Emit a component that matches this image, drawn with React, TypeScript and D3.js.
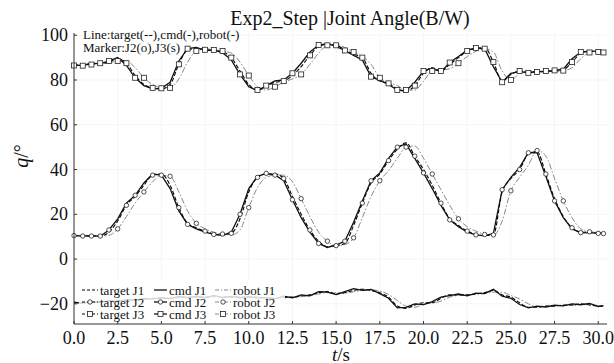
import React from 'react';
import * as d3 from 'd3';

const TIME = [0,0.5,1,1.5,2,2.5,3,3.5,4,4.5,5,5.5,6,6.5,7,7.5,8,8.5,9,9.5,10,10.5,11,11.5,12,12.5,13,13.5,14,14.5,15,15.5,16,16.5,17,17.5,18,18.5,19,19.5,20,20.5,21,21.5,22,22.5,23,23.5,24,24.5,25,25.5,26,26.5,27,27.5,28,28.5,29,29.5,30,30.3];

const J3_TARGET = [86.5,86.8,87.2,87.5,88,89.5,87.5,82,78,76.5,
76,78,87,93.5,94,93.5,93,92.5,90,84,
78,75.5,77,79,79.5,82,86,91,95,96,
95.5,93.5,91.5,90,83,79.5,78.5,76,75,77.5,
83,85.5,84,87,90,93,94,94.5,88,79.5,
82.5,84,83.5,83.5,84,84,84.5,88,92,93,
92.5,92.5];
const J3_CMD = [86.8,86.4,87.5,87.2,88.5,90,86.5,81,77.5,76,
76.3,79,88.5,94,94.6,93.2,93.4,92.2,89,82.5,
77,75.2,77.5,79.6,80,83,87.5,92.5,95.6,96.2,
95,93.2,91,89,81.5,79.8,78,75.5,75.2,79,
84,85.3,83.6,87.8,90.5,93.4,94.3,94,86,79,
83,83.7,83.2,83.9,83.7,84.3,84.8,89.5,92.5,92.7,
93,92.3];
const J3_ROBOT = [86.5,86.6,86.9,87.2,87.6,88.5,88.5,85.5,81,78,
76.5,76.5,80.5,88,93,94,93.5,93,92,88,
82,77,75.5,77,79,80.5,82.5,87,92,95.5,
96,94.5,92.5,90.5,87,81,79,77.5,75.5,75.5,
79.5,84,84.5,85,87.5,90.5,92.8,94,92.5,84,
80,83,84,83.6,83.6,84,84.2,85.5,89.5,92.3,
93,92.6];

const J2_TARGET = [10.5,10.5,10.3,10.3,12,17,24,28,33,37.5,
38,33,23,16,14,12.5,11.2,10.8,11.5,18,
30,36.5,38,38,36,28,20,13,8,5.5,
6,7,15,25,34,38,44,49,52,46,
40,33,25,18,15,12.5,11,10.5,10.8,30,
36,40,47,48,38,27,19,14,12,12,
11.5,11.5];
const J2_CMD = [10.6,10.3,10.5,10.2,13,18,25,28.5,34,38,
37.5,31.5,21.5,15.5,13.5,12,11,10.6,12,20,
31.5,37,38.3,37.6,35,26.5,18.5,12,7,5.2,
6.3,8,16.5,26,35,38.5,45,50,51.5,45,
38.5,31.5,24,17.5,14.5,12,10.8,10.4,11.5,31,
36.5,41,47.5,47.5,37,26,18.5,13.5,11.8,11.7,
11.6,11.4];
const J2_ROBOT = [10.4,10.4,10.3,10.2,10.6,13.5,19,25,30,34.5,
37.5,37,30,21.5,16,13.5,12,11.2,10.8,13,
23,32,36.5,37.5,37.5,34.5,27,19,12,8,
6,6.5,9.5,18.5,28,35,39.5,45,50,50.5,
45,38,31,24,18,14.5,12.5,11,10.5,17,
30.5,36.5,42,48.5,46,36,26,18.5,13.5,12.2,
12,11.8];

const J1_TARGET = [-19.5,-19.5,-19.3,-19,-19,-18.5,-18.5,-18,-18,-17.5,
-17.5,-17.5,-17,-17,-17,-17,-16.5,-17,-17,-17,
-17,-17,-17.5,-17.5,-17,-17,-16.5,-16,-15,-14.5,
-15.5,-15,-14,-13.5,-14,-15,-17,-21,-22,-20.5,
-19.5,-19.5,-17.5,-16,-16,-16,-15.5,-15,-14,-16,
-17,-19.5,-21.5,-21.5,-21,-21,-20.5,-20.5,-20,-20.5,
-21,-21];
const J1_CMD = [-19.2,-19.8,-18.9,-19.4,-18.6,-18.9,-18.1,-18.4,-17.6,-17.9,
-17.2,-17.8,-16.7,-17.3,-16.6,-17.4,-16.2,-17.2,-16.7,-17.3,
-16.8,-17.3,-17.2,-17.8,-16.6,-17.3,-16,-16.4,-14.6,-14.8,
-15.9,-14.5,-13.2,-14,-13.6,-15.4,-17.5,-21.8,-21.6,-20,
-20.3,-19,-17,-16.3,-15.6,-16.4,-15.2,-15.4,-13.5,-16.6,
-17.5,-20.3,-21.8,-21,-21.4,-20.6,-20.9,-20,-20.4,-19.8,
-21.2,-20.8];
const J1_ROBOT = [-19.5,-19.5,-19.4,-19.2,-19,-18.8,-18.6,-18.3,-18.1,-17.8,
-17.6,-17.5,-17.3,-17.1,-17,-17,-16.9,-16.8,-16.9,-17,
-17,-17,-17.2,-17.4,-17.3,-17.1,-16.8,-16.3,-15.6,-15,
-15,-15.2,-14.6,-14,-13.8,-14.3,-15.8,-18.5,-21,-21.5,
-20.2,-19.6,-18.8,-17,-16.2,-16,-15.8,-15.3,-14.8,-14.8,
-16.3,-17.8,-20,-21.3,-21.3,-21,-20.8,-20.6,-20.3,-20.3,
-20.8,-21];

const X_TICKS = [0, 2.5, 5, 7.5, 10, 12.5, 15, 17.5, 20, 22.5, 25, 27.5, 30];
const Y_TICKS = [-20, 0, 20, 40, 60, 80, 100];
const SOURCES = ['target', 'cmd', 'robot'];
const JOINTS = ['J1', 'J2', 'J3'];

const FONT = "'Liberation Serif', 'DejaVu Serif', serif";

const STYLE: Record<string, { stroke: string; dash: string | undefined; width: number }> = {
  target: { stroke: '#000', dash: '4,2', width: 1.1 },
  cmd: { stroke: '#111', dash: undefined, width: 1.3 },
  robot: { stroke: '#888', dash: '6,2,1.5,2', width: 1 },
};

function Marker({ kind, cx, cy }: { kind: string; cx: number; cy: number }) {
  if (kind === 'J2') return <circle cx={cx} cy={cy} r={2.2} fill="#fff" stroke="#222" strokeWidth={0.8} />;
  if (kind === 'J3') return <rect x={cx - 2.5} y={cy - 2.5} width={5} height={5} fill="#fff" stroke="#222" strokeWidth={0.8} />;
  return null;
}

export default function App() {
  const W = 614, H = 363;
  const x = d3.scaleLinear().domain([0, 30.5]).range([74, 607]);
  const y = d3.scaleLinear().domain([-29, 101]).range([324, 33]);

  const data: Record<string, Record<string, number[]>> = {
    J1: { target: J1_TARGET, cmd: J1_CMD, robot: J1_ROBOT },
    J2: { target: J2_TARGET, cmd: J2_CMD, robot: J2_ROBOT },
    J3: { target: J3_TARGET, cmd: J3_CMD, robot: J3_ROBOT },
  };

  const mkLine = (src: string) =>
    d3.line<number>()
      .x((_, i) => x(TIME[i]))
      .y((d) => y(d))
      .curve(src === 'cmd' ? d3.curveLinear : d3.curveMonotoneX);

  const drawOrder = ['robot', 'target', 'cmd'];

  const legendRows = [290, 302, 314];
  const legendCols = [
    { sx: 82, tx: 100 },
    { sx: 154, tx: 169 },
    { sx: 215, tx: 233 },
  ];

  const txt = { fontFamily: FONT };

  return (
    <svg width={W} height={H} style={{ position: 'absolute', left: 0, top: 0, background: '#fff', fontFamily: FONT }}>
      <rect x={0} y={0} width={W} height={H} fill="#fff" />
      {X_TICKS.map((t) => (
        <line key={'gx' + t} x1={x(t)} x2={x(t)} y1={y(101)} y2={y(-29)} stroke="#f2f2f2" strokeWidth={0.8} />
      ))}
      {Y_TICKS.map((v) => (
        <line key={'gy' + v} x1={x(0)} x2={x(30.5)} y1={y(v)} y2={y(v)} stroke="#f2f2f2" strokeWidth={0.8} />
      ))}

      {JOINTS.map((j) =>
        drawOrder.map((s) => (
          <path
            key={j + s}
            d={mkLine(s)(data[j][s]) || ''}
            fill="none"
            stroke={STYLE[s].stroke}
            strokeWidth={STYLE[s].width}
            strokeDasharray={STYLE[s].dash}
          />
        ))
      )}
      {['J2', 'J3'].map((j) =>
        SOURCES.map((s, si) =>
          data[j][s].map((v, i) =>
            i % 3 === si ? <Marker key={j + s + i} kind={j} cx={x(TIME[i])} cy={y(v)} /> : null
          )
        )
      )}

      <line x1={x(0)} x2={x(0)} y1={y(101)} y2={y(-29)} stroke="#333" strokeWidth={1} />
      <line x1={x(0)} x2={x(30.5)} y1={y(-29)} y2={y(-29)} stroke="#333" strokeWidth={1} />
      {Y_TICKS.map((v) => (
        <g key={'yt' + v}>
          <line x1={x(0)} x2={x(0) + 3} y1={y(v)} y2={y(v)} stroke="#333" />
          <text x={x(0) - 6} y={y(v) + 6} fontSize={18} textAnchor="end" fill="#111" style={txt}>
            {v < 0 ? '\u2212' + Math.abs(v) : v}
          </text>
        </g>
      ))}
      {X_TICKS.map((t) => (
        <g key={'xt' + t}>
          <line x1={x(t)} x2={x(t)} y1={y(-29)} y2={y(-29) - 3} stroke="#333" />
          <text x={x(t)} y={344} fontSize={18} textAnchor="middle" fill="#111" style={txt}>
            {t.toFixed(1)}
          </text>
        </g>
      ))}

      <text x={350} y={25} fontSize={20} textAnchor="middle" fill="#111" style={txt}>Exp2_Step |Joint Angle(B/W)</text>
      <text x={83} y={39} fontSize={13} fill="#111" style={txt}>Line:target(--),cmd(-),robot(-)</text>
      <text x={83} y={52} fontSize={13} fill="#111" style={txt}>Marker:J2(o),J3(s)</text>
      <text x={341} y={361} fontSize={19} textAnchor="middle" fill="#111" style={txt}>
        <tspan fontStyle="italic">t</tspan>/s
      </text>
      <text transform="translate(28,156) rotate(-90)" fontSize={20} textAnchor="middle" fill="#111" style={txt}>
        <tspan fontStyle="italic">q</tspan>/°
      </text>

      <rect x={79} y={281} width={206} height={39} fill="#fff" fillOpacity={0.82} />
      {SOURCES.map((s, ci) =>
        JOINTS.map((j, ri) => {
          const col = legendCols[ci];
          const ry = legendRows[ri];
          const len = ci === 1 ? 13 : 16;
          return (
            <g key={'lg' + s + j}>
              <line
                x1={col.sx}
                x2={col.sx + len}
                y1={ry}
                y2={ry}
                stroke={STYLE[s].stroke}
                strokeWidth={STYLE[s].width}
                strokeDasharray={s === 'target' ? '3,2' : s === 'robot' ? '4,2,1,2' : undefined}
              />
              <Marker kind={j} cx={col.sx + len / 2} cy={ry} />
              <text x={col.tx} y={ry + 4.5} fontSize={13} fill="#111" style={txt}>
                {s} {j}
              </text>
            </g>
          );
        })
      )}
    </svg>
  );
}
